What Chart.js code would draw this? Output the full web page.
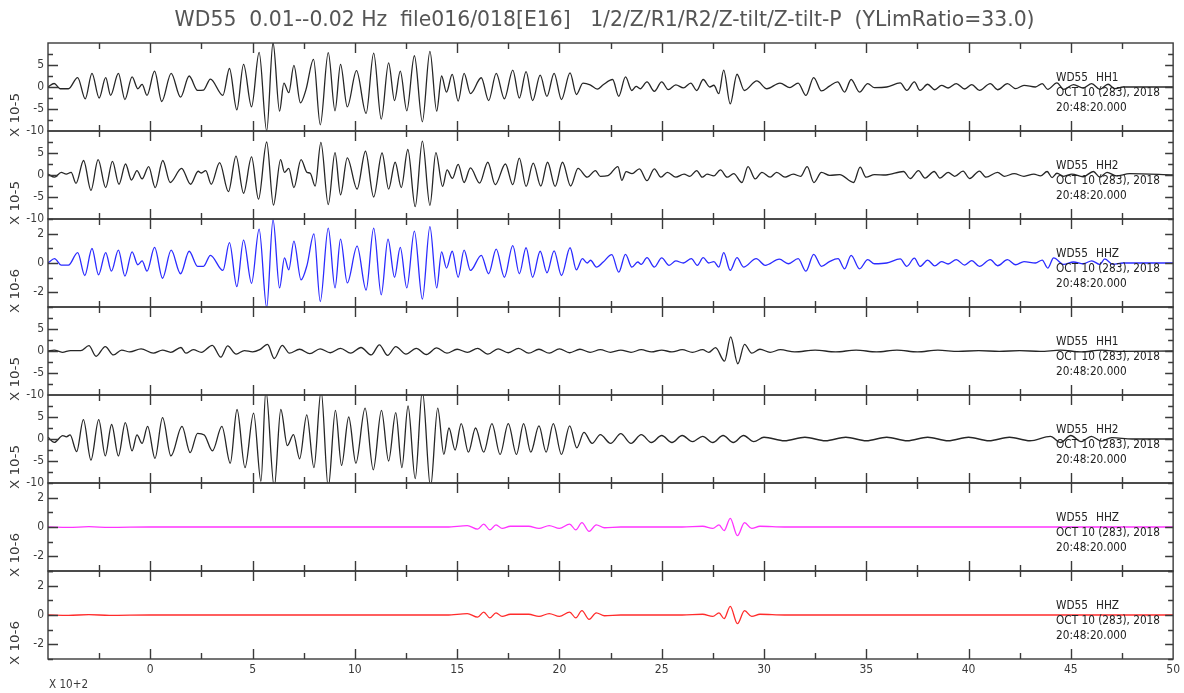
<!DOCTYPE html>
<html>
<head>
<meta charset="utf-8">
<script src="https://cdn.jsdelivr.net/npm/chart.js@4.4.1/dist/chart.umd.min.js"></script>
<style>
  html, body { margin: 0; padding: 0; background: #fff; }
  #wrap { width: 1184px; height: 693px; position: relative; }
</style>
</head>
<body>
<div id="wrap"><canvas id="c" width="1184" height="693"></canvas></div>
<script>
// Time axis is in units of 10^2 s; amplitudes per trace in units of 10^-5 or 10^-6.
const xTicks = [0, 5, 10, 15, 20, 25, 30, 35, 40, 45, 50];
const yTicksWide = [-10, -5, 0, 5];
const yTicksNarrow = [-2, 0, 2];
const stationName = 'WD55';
const startDate = 'OCT 10 (283), 2018';
const startTime = '20:48:20.000';
const titleText = 'WD55  0.01--0.02 Hz  file016/018[E16]   1/2/Z/R1/R2/Z-tilt/Z-tilt-P  (YLimRatio=33.0)';
const channels = ['HH1', 'HH2', 'HHZ', 'HH1', 'HH2', 'HHZ', 'HHZ'];
const yUnits = ['X 10-5', 'X 10-5', 'X 10-6', 'X 10-5', 'X 10-5', 'X 10-6', 'X 10-6'];
const yLimits = [10, 10, 3.0303, 10, 10, 3.0303, 3.0303];

// Trace 1: HH1
const tr1T = [-5.0,-4.7,-4.4,-4.0,-3.55,-3.18,-2.85,-2.5,-2.18,-1.94,-1.56,-1.24,-0.89,-0.61,-0.4,-0.16,0.21,0.56,1.02,1.48,1.9,2.31,2.6,2.94,3.55,3.87,4.23,4.56,4.95,5.32,5.69,6.0,6.32,6.53,6.77,7.02,7.34,7.61,7.98,8.31,8.7,9.03,9.3,9.63,10.08,10.55,10.92,11.29,11.65,11.94,12.22,12.54,12.91,13.3,13.67,14.0,14.24,14.48,14.76,15.05,15.34,15.65,16.18,16.54,16.91,17.31,17.72,18.04,18.37,18.69,19.06,19.39,19.74,20.1,20.52,20.83,21.15,21.5,21.85,22.14,22.6,22.9,23.23,23.54,23.75,23.95,24.28,24.64,25.0,25.32,25.69,26.06,26.42,26.71,27.03,27.35,27.55,27.79,28.03,28.35,28.68,29.04,29.65,30.14,30.78,31.27,31.67,32.05,32.43,32.81,33.2,33.6,33.94,34.26,34.67,35.07,35.4,36.0,36.66,36.98,37.35,37.63,38.0,38.35,38.68,39.0,39.4,39.81,40.16,40.53,41.06,41.42,41.9,42.3,42.71,43.27,43.6,43.87,44.32,44.65,45.13,45.61,46.02,46.42,46.82,47.15,47.55,50.0];
const tr1V = [0.0,0.8,-0.4,-0.4,2.15,-2.7,3.1,-2.5,2.15,-1.9,3.1,-2.85,2.3,-0.4,0.6,-1.9,3.6,-3.3,3.1,-2.3,2.5,-0.77,-0.7,1.8,-1.9,4.2,-5.2,5.15,-4.5,7.85,-10.0,10.1,-5.5,0.9,-1.3,4.9,-3.6,-0.6,6.3,-8.6,7.8,-5.4,5.15,-4.5,3.7,-6.0,7.7,-7.3,5.5,-3.1,3.6,-5.4,7.1,-7.9,8.1,-5.5,2.5,-1.15,2.85,-3.2,3.1,-1.5,2.1,-3.1,3.1,-2.7,3.85,-2.5,3.5,-3.1,2.7,-2.15,3.1,-2.85,3.2,-1.7,0.9,0.5,-0.5,0.5,1.7,-2.1,2.3,-0.8,0.15,-0.4,1.15,-1.0,1.15,-0.6,0.5,-0.2,0.9,-0.8,1.7,0.0,0.4,-1.5,3.85,-3.85,2.9,-0.8,1.4,-0.4,0.9,-0.15,0.9,-1.9,2.15,-0.9,0.2,1.15,-1.15,1.7,-1.15,0.77,-0.15,0.0,0.92,-0.77,1.15,-0.77,0.62,-0.62,0.38,-0.23,0.77,-0.46,0.54,-0.77,0.77,-0.62,0.77,-0.38,0.38,0.0,0.77,-0.54,0.92,-0.54,0.54,-0.23,0.77,-0.54,0.62,-0.38,0.0,0.0];

// Trace 2: HH2
const tr2T = [-5.0,-4.68,-4.35,-4.11,-3.87,-3.63,-3.26,-2.9,-2.55,-2.18,-1.85,-1.53,-1.21,-0.92,-0.65,-0.4,-0.08,0.24,0.61,0.97,1.53,1.97,2.34,2.5,2.71,2.98,3.39,3.82,4.19,4.56,4.95,5.29,5.69,6.02,6.37,6.56,6.77,7.02,7.37,7.66,7.82,8.06,8.34,8.7,9.03,9.3,9.63,10.11,10.52,10.92,11.33,11.65,11.97,12.27,12.59,12.95,13.3,13.67,13.96,14.29,14.51,14.77,15.05,15.34,15.65,16.1,16.5,16.86,17.36,17.72,18.04,18.37,18.72,19.09,19.42,19.79,20.15,20.55,20.91,21.36,21.76,22.0,22.37,22.86,23.05,23.26,23.55,23.91,24.28,24.64,24.96,25.28,25.69,26.09,26.38,26.71,26.98,27.22,27.55,27.87,28.2,28.52,28.92,29.22,29.57,29.9,30.3,30.62,31.03,31.43,31.79,32.11,32.44,32.81,33.21,33.7,34.38,34.7,34.99,35.4,35.96,36.82,37.15,37.55,37.87,38.32,38.6,39.0,39.32,39.73,40.05,40.53,40.85,41.42,41.74,42.23,42.71,43.19,43.52,43.84,44.08,44.32,44.65,45.05,45.6,46.1,46.42,46.77,47.23,47.87,50.0];
const tr2V = [0.2,-0.5,0.6,0.2,0.6,-1.9,3.3,-3.5,3.5,-2.85,3.1,-2.1,2.5,-1.15,1.0,-0.9,1.9,-2.85,3.3,-1.7,1.5,-2.1,0.85,0.45,1.0,-2.1,2.8,-3.8,4.3,-4.15,4.1,-5.5,7.5,-6.85,3.5,0.6,1.5,-2.85,3.5,0.6,0.4,-2.5,7.4,-6.7,5.1,-4.5,3.9,-3.2,5.4,-5.0,5.0,-3.2,2.9,-2.85,5.8,-7.2,7.7,-6.9,5.1,-2.6,1.15,-0.77,2.4,-1.7,1.6,-1.85,2.9,-2.2,2.5,-2.2,3.85,-2.6,2.7,-2.5,2.9,-2.6,2.9,-2.5,1.5,-0.5,1.0,-0.3,-0.15,1.9,-1.2,0.77,0.3,1.4,-1.3,1.4,-0.5,0.6,-0.5,0.2,-0.3,1.0,-0.5,0.2,-0.2,1.15,-0.5,0.3,-1.7,1.9,-0.9,0.6,-0.5,0.6,-0.5,0.2,-0.3,1.9,-1.7,0.6,-0.1,0.1,-1.7,1.8,-0.5,0.1,0.0,0.8,-0.8,1.0,-0.7,0.8,-0.7,0.6,-0.3,0.9,-0.8,0.9,-0.5,0.6,-0.3,0.3,-0.3,0.2,-0.2,0.8,-0.6,0.4,-0.3,0.2,-0.4,0.8,-0.5,0.6,-0.2,0.3,0.0];

// Trace 3: HHZ
const tr3T = [-5.0,-4.68,-4.35,-4.0,-3.55,-3.2,-2.85,-2.53,-2.18,-1.9,-1.56,-1.24,-0.89,-0.61,-0.4,-0.16,0.21,0.6,1.02,1.48,1.9,2.31,2.6,2.94,3.55,3.87,4.23,4.56,4.95,5.32,5.69,6.0,6.32,6.56,6.77,7.02,7.37,7.66,8.0,8.31,8.7,9.03,9.3,9.63,10.11,10.55,10.92,11.29,11.62,11.94,12.22,12.54,12.91,13.3,13.67,14.0,14.24,14.48,14.76,15.05,15.34,15.65,16.18,16.54,16.91,17.31,17.72,18.04,18.37,18.69,19.06,19.39,19.74,20.1,20.52,20.83,21.12,21.36,21.52,21.81,22.14,22.56,22.9,23.23,23.54,23.83,24.0,24.28,24.64,25.0,25.36,25.69,26.06,26.45,26.74,27.03,27.3,27.55,27.79,28.03,28.35,28.68,29.0,29.62,30.06,30.75,31.19,31.67,32.05,32.43,32.81,33.2,33.62,33.94,34.26,34.67,35.07,35.4,36.0,36.66,36.98,37.35,37.63,38.0,38.35,38.68,39.0,39.4,39.81,40.16,40.53,41.06,41.42,41.9,42.3,42.71,43.27,43.6,43.87,44.16,44.65,45.13,45.61,46.02,46.42,46.66,47.06,47.55,50.0];
const tr3V = [0.0,0.3,-0.15,-0.15,0.72,-0.86,1.0,-0.81,0.72,-0.56,0.88,-0.9,0.77,-0.12,0.14,-0.56,1.07,-1.05,0.88,-0.74,0.81,-0.23,-0.23,0.53,-0.51,1.4,-1.63,1.58,-1.4,2.33,-3.07,2.98,-1.72,0.35,-0.47,1.51,-1.16,-0.16,2.0,-2.65,2.4,-1.72,1.65,-1.37,1.16,-1.86,2.4,-2.19,1.65,-0.98,1.07,-1.72,2.2,-2.49,2.51,-1.72,0.77,-0.35,0.81,-0.98,0.88,-0.51,0.53,-0.74,0.95,-0.98,1.19,-0.74,1.05,-0.98,0.81,-0.67,0.84,-0.86,1.05,-0.47,0.3,0.0,0.19,-0.28,0.07,0.58,-0.63,0.6,-0.28,0.07,-0.1,0.37,-0.28,0.35,-0.16,0.14,0.0,0.3,-0.16,0.37,0.0,0.1,-0.28,0.72,-0.51,0.37,-0.28,0.3,-0.16,0.26,-0.05,0.3,-0.56,0.6,-0.23,0.1,0.3,-0.4,0.53,-0.4,0.23,-0.05,0.0,0.28,-0.23,0.33,-0.23,0.2,-0.2,0.1,-0.07,0.23,-0.14,0.16,-0.23,0.23,-0.19,0.23,-0.12,0.1,0.0,0.2,-0.35,0.35,-0.1,0.07,-0.05,0.15,-0.1,0.28,-0.1,0.0,0.0];

// Trace 4: HH1 (R1)
const tr4T = [-5.0,-4.7,-4.3,-3.9,-3.4,-3.0,-2.65,-2.2,-1.8,-1.4,-1.0,-0.45,0.15,0.6,1.0,1.5,1.74,2.1,2.5,3.03,3.45,3.78,4.2,4.6,5.0,5.35,5.73,6.06,6.45,6.8,7.3,7.8,8.3,8.8,9.3,9.8,10.3,10.8,11.2,11.6,12.0,12.5,13.0,13.5,14.0,14.5,15.0,15.5,16.0,16.5,17.0,17.5,18.0,18.5,19.0,19.5,20.0,20.5,21.0,21.5,22.0,22.5,23.0,23.5,24.0,24.5,25.0,25.5,26.0,26.5,27.0,27.3,27.63,28.07,28.37,28.72,29.05,29.4,29.8,30.3,30.8,31.5,32.5,33.5,34.5,35.5,36.5,37.5,38.5,39.5,40.5,41.5,42.5,43.5,44.5,45.5,46.5,47.5,50.0];
const tr4V = [0.0,0.2,-0.3,0.1,0.1,1.2,-1.2,1.0,-0.9,0.2,-0.2,0.5,-0.5,0.2,-0.3,0.8,-0.5,0.3,-0.3,1.3,-1.4,1.15,-0.7,0.1,-0.2,0.3,1.5,-1.7,1.3,-0.5,0.4,-0.6,0.5,-0.4,0.6,-0.5,0.8,-0.9,1.4,-1.0,1.0,-0.7,0.6,-0.8,0.7,-0.5,0.4,-0.3,0.6,-0.7,0.5,-0.4,0.6,-0.5,0.4,-0.5,0.5,-0.4,0.4,-0.3,0.3,-0.3,0.2,-0.3,0.3,-0.2,0.2,-0.2,0.3,-0.3,0.3,-0.3,0.76,-2.3,3.2,-2.9,1.5,-0.5,0.4,-0.3,0.3,-0.2,0.2,-0.2,0.2,-0.2,0.2,-0.2,0.2,-0.1,0.1,-0.1,0.1,-0.1,0.2,-0.2,0.2,-0.1,0.0];

// Trace 5: HH2 (R2)
const tr5T = [-5.0,-4.69,-4.28,-4.1,-3.92,-3.6,-3.27,-2.9,-2.52,-2.2,-1.89,-1.56,-1.22,-0.89,-0.65,-0.4,-0.13,0.23,0.6,1.01,1.55,1.95,2.31,2.64,3.04,3.5,3.91,4.24,4.63,5.05,5.41,5.65,6.06,6.38,6.7,7.0,7.3,7.65,8.0,8.35,8.7,9.05,9.35,9.7,10.05,10.5,10.9,11.3,11.65,12.0,12.3,12.6,12.95,13.3,13.7,14.05,14.35,14.6,14.9,15.2,15.55,15.9,16.3,16.7,17.1,17.5,17.9,18.25,18.6,19.0,19.35,19.7,20.1,20.5,20.85,21.2,21.6,22.0,22.5,23.0,23.5,24.0,24.5,25.0,25.5,26.0,26.5,27.0,27.5,28.0,28.5,29.0,29.5,30.0,31.0,32.0,33.0,34.0,35.0,36.0,37.0,38.0,39.0,40.0,41.0,42.0,43.0,44.0,44.5,45.0,45.5,46.0,46.5,47.0,48.0,50.0];
const tr5V = [0.4,-0.77,0.77,0.5,0.92,-2.85,4.4,-4.8,4.4,-3.85,3.3,-3.85,3.7,-2.7,0.92,-1.0,2.85,-4.4,4.85,-3.85,2.85,-3.1,1.3,0.9,-2.7,2.85,-5.5,6.7,-6.5,5.9,-9.6,11.0,-11.0,6.7,-1.5,1.0,-4.5,5.5,-6.5,11.0,-11.0,6.5,-6.0,5.0,-5.5,7.0,-7.0,6.5,-5.0,6.0,-6.5,7.5,-9.0,11.0,-11.0,7.0,-3.5,2.5,-2.5,3.5,-3.0,2.5,-3.0,3.5,-3.5,3.5,-3.5,3.5,-3.0,3.0,-3.0,3.5,-3.5,3.0,-2.0,1.5,-1.0,1.0,-1.0,1.2,-1.0,1.0,-0.8,0.8,-0.8,0.8,-0.6,0.6,-0.8,0.8,-0.8,0.8,-0.6,0.4,-0.4,0.4,-0.4,0.4,-0.4,0.4,-0.4,0.4,-0.4,0.4,-0.4,0.4,-0.4,0.6,-0.8,0.8,-0.6,0.6,-0.5,0.3,0.0,0.0];

// Trace 6: HHZ (Z-tilt)
const tr6T = [-5.0,-4.0,-3.0,-2.0,0.0,5.0,10.0,14.5,15.5,16.0,16.3,16.6,16.9,17.2,17.6,18.5,19.0,19.5,20.0,20.5,20.8,21.1,21.45,21.8,22.2,23.0,26.0,27.0,27.5,27.8,28.05,28.35,28.7,29.05,29.4,29.8,31.0,50.0];
const tr6V = [0.0,-0.03,0.02,-0.03,0.0,0.0,0.0,0.0,0.1,-0.15,0.2,-0.2,0.15,-0.1,0.05,0.05,-0.1,0.1,-0.1,0.2,-0.2,0.3,-0.3,0.15,-0.05,0.0,0.0,0.05,-0.1,0.15,-0.25,0.6,-0.6,0.3,-0.1,0.05,0.0,0.0];

// Trace 7: HHZ (Z-tilt-P)
const tr7T = [-5.0,-4.0,-3.0,-2.0,0.0,5.0,10.0,14.5,15.5,16.0,16.3,16.6,16.9,17.2,17.6,18.5,19.0,19.5,20.0,20.5,20.8,21.1,21.45,21.8,22.2,23.0,26.0,27.0,27.5,27.8,28.05,28.35,28.7,29.05,29.4,29.8,31.0,50.0];
const tr7V = [0.0,-0.03,0.03,-0.03,0.0,0.0,0.0,0.0,0.1,-0.15,0.2,-0.2,0.15,-0.1,0.05,0.05,-0.1,0.1,-0.1,0.2,-0.2,0.3,-0.3,0.15,-0.05,0.0,0.0,0.05,-0.1,0.15,-0.25,0.6,-0.6,0.3,-0.1,0.05,0.0,0.0];

const traceTimes = [tr1T, tr2T, tr3T, tr4T, tr5T, tr6T, tr7T];
const traceValues = [tr1V, tr2V, tr3V, tr4V, tr5V, tr6V, tr7V];
const traceColors = ['#262626', '#262626', '#2b2bff', '#262626', '#262626', '#ff33ff', '#ff2b2b'];

const FONT = '"DejaVu Sans Condensed", "DejaVu Sans", sans-serif';
const INK = '#3a3a3a';

function toPoints(ts, vs) { return ts.map((t, i) => ({ x: t, y: vs[i] })); }

// Draws text with a horizontal squeeze factor.
function drawSqueezed(ctx, text, x, y, sx, align) {
  ctx.save();
  ctx.translate(x, y);
  ctx.scale(sx, 1);
  ctx.textAlign = align;
  ctx.fillText(text, 0, 0);
  ctx.restore();
}
// Draws text squeezed so that it spans the given width.
function drawFitted(ctx, text, x, y, width, align) {
  drawSqueezed(ctx, text, x, y, width / ctx.measureText(text).width, align);
}

const datasets = traceTimes.map((ts, i) => ({
  label: channels[i],
  data: toPoints(ts, traceValues[i]),
  yAxisID: 'y' + (i + 1),
  borderColor: traceColors[i],
  borderWidth: 1.3,
  pointRadius: 0,
  fill: false,
  cubicInterpolationMode: 'monotone',
}));

const scales = {
  x: {
    type: 'linear',
    position: 'bottom',
    min: -5,
    max: 50,
    grid: { display: false, drawTicks: false },
    border: { display: false },
    afterBuildTicks: (s) => { s.ticks = xTicks.map(v => ({ value: v })); },
    afterFit: (s) => { s.height = 34; },
    ticks: {
      autoSkip: false, maxRotation: 0, padding: 4, color: INK,
      font: { family: FONT, size: 12 },
      callback: (v) => String(v),
    },
  },
};
yLimits.forEach((lim, i) => {
  const labels = lim > 5 ? yTicksWide : yTicksNarrow;
  scales['y' + (i + 1)] = {
    type: 'linear',
    position: 'left',
    stack: 'traces',
    stackWeight: 1,
    weight: 10 - i,
    min: -lim,
    max: lim,
    grid: { display: false, drawTicks: false },
    border: { display: false },
    afterBuildTicks: (s) => { s.ticks = labels.map(v => ({ value: v })); },
    afterFit: (s) => { s.width = 48; },
    ticks: {
      autoSkip: false, padding: 4, color: INK,
      font: { family: FONT, size: 12 },
      callback: (v) => String(v),
    },
  };
});

// Clips each trace to its own panel and draws frames, ticks and labels.
const panelPlugin = {
  id: 'panels',
  beforeDraw(chart) {
    const ctx = chart.ctx;
    ctx.save();
    ctx.fillStyle = '#ffffff';
    ctx.fillRect(0, 0, chart.width, chart.height);
    ctx.restore();
  },
  beforeDatasetDraw(chart, args) {
    const ys = chart.scales[args.meta.yAxisID];
    const a = chart.chartArea;
    const ctx = chart.ctx;
    ctx.save();
    ctx.beginPath();
    ctx.rect(a.left, ys.top, a.right - a.left, ys.bottom - ys.top);
    ctx.clip();
  },
  afterDatasetDraw(chart) {
    chart.ctx.restore();
  },
  afterDraw(chart) {
    const ctx = chart.ctx;
    const a = chart.chartArea;
    const xs = chart.scales.x;
    ctx.save();
    ctx.font = '13px ' + FONT;
    const labelSqueeze = 104 / ctx.measureText(startDate).width;
    ctx.strokeStyle = '#3a3a3a';
    ctx.lineWidth = 1.4;
    yLimits.forEach((lim, i) => {
      const ys = chart.scales['y' + (i + 1)];
      const top = ys.top, bot = ys.bottom;
      ctx.strokeRect(a.left, top, a.right - a.left, bot - top);
      ctx.beginPath();
      // time ticks on the top and bottom edges of every panel
      for (let v = -2.5; v < 50; v += 2.5) {
        const px = Math.round(xs.getPixelForValue(v)) + 0.5;
        const len = (Math.abs(v % 5) < 1e-9) ? 10 : 6;
        ctx.moveTo(px, top); ctx.lineTo(px, top + len);
        ctx.moveTo(px, bot); ctx.lineTo(px, bot - len);
      }
      // amplitude ticks on the left and right edges
      const step = lim > 5 ? 2.5 : 1;
      const major = lim > 5 ? 5 : 2;
      for (let v = -Math.floor(lim / step) * step; v <= lim + 1e-9; v += step) {
        if (Math.abs(Math.abs(v) - lim) < 1e-6) continue;
        const py = Math.round(ys.getPixelForValue(v)) + 0.5;
        const isMajor = Math.abs(v / major - Math.round(v / major)) < 1e-6;
        ctx.moveTo(a.left, py); ctx.lineTo(a.left + (isMajor ? 10 : 5), py);
        ctx.moveTo(a.right, py); ctx.lineTo(a.right - (isMajor ? 8 : 5), py);
      }
      ctx.stroke();

      // unit label, rotated, beside the amplitude axis
      ctx.save();
      ctx.fillStyle = INK;
      ctx.font = '13px ' + FONT;
      ctx.textBaseline = 'middle';
      ctx.translate(16, (top + bot) / 2 + 28);
      ctx.rotate(-Math.PI / 2);
      drawFitted(ctx, yUnits[i], 0, 0, 44, 'center');
      ctx.restore();

      // station / channel / start time block
      ctx.save();
      ctx.fillStyle = '#222222';
      ctx.font = '13px ' + FONT;
      ctx.textBaseline = 'middle';
      drawSqueezed(ctx, stationName, 1056, top + 35, labelSqueeze, 'left');
      drawSqueezed(ctx, channels[i], 1096, top + 35, labelSqueeze, 'left');
      drawSqueezed(ctx, startDate, 1056, top + 50, labelSqueeze, 'left');
      drawSqueezed(ctx, startTime, 1056, top + 64.5, labelSqueeze, 'left');
      ctx.restore();
    });

    // exponent of the time axis
    ctx.fillStyle = INK;
    ctx.font = '13px ' + FONT;
    ctx.textBaseline = 'middle';
    drawFitted(ctx, 'X 10+2', 49, 685, 39, 'left');

    // title, condensed to its printed width
    ctx.font = '22px ' + FONT;
    ctx.fillStyle = '#555555';
    ctx.textBaseline = 'middle';
    drawFitted(ctx, titleText, (a.left + a.right) / 2 - 6, 20, 860, 'center');
    ctx.restore();
  },
};

new Chart(document.getElementById('c'), {
  type: 'line',
  data: { datasets },
  options: {
    responsive: false,
    animation: false,
    events: [],
    layout: { padding: { top: 43, right: 10, left: 0, bottom: 0 } },
    plugins: { legend: { display: false }, tooltip: { enabled: false }, title: { display: false } },
    scales,
  },
  plugins: [panelPlugin],
});
</script>
</body>
</html>
